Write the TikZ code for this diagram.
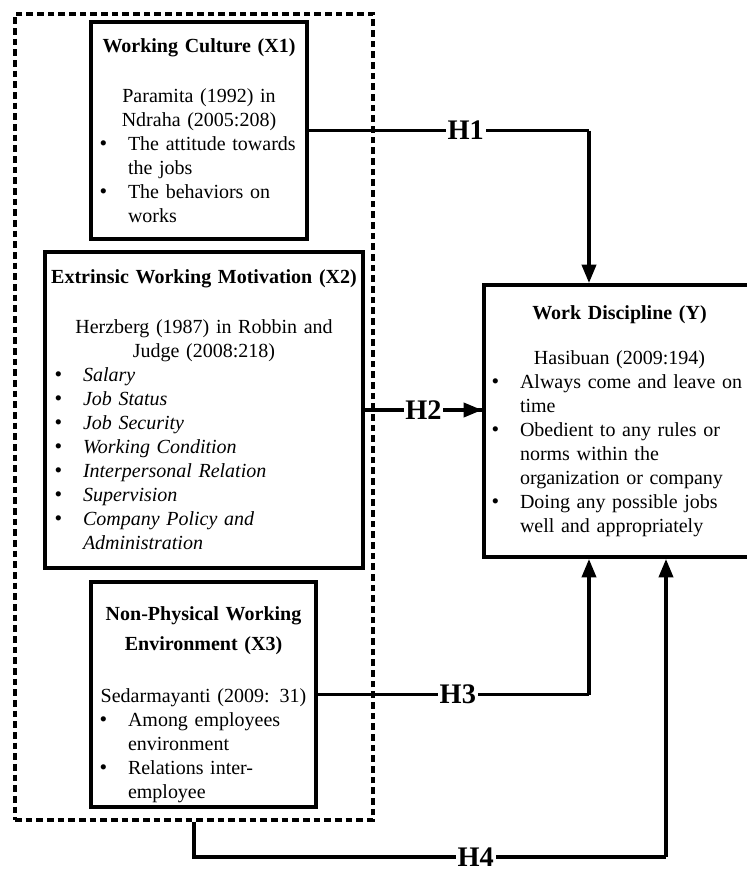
\documentclass[tikz,border=0pt]{standalone}
\usepackage{fontspec}
\setmainfont{Liberation Serif}
\usetikzlibrary{arrows.meta}

\newlength{\bulind}
\setlength{\bulind}{18pt}
\newcommand{\ctr}[1]{\makebox[\linewidth]{#1}}
\newcommand{\dotmark}{{\fontsize{13}{13}\selectfont\textbullet}}
\newcommand{\bul}[1]{\mbox{\makebox[\bulind][l]{\hspace*{1pt}\dotmark}#1}}
\newcommand{\cnt}[1]{\mbox{\hspace*{\bulind}#1}}

\tikzstyle{factor}=[rectangle,draw=black,line width=2.4pt,inner sep=0pt,align=left,font=\fontsize{12}{14.4}\selectfont]
\tikzstyle{group}=[rectangle,draw=black,line width=2pt,dash pattern=on 4pt off 2.4pt,inner sep=0pt]
\tikzstyle{hyp}=[fill=white,inner sep=1pt,font=\fontsize{17}{20}\selectfont\bfseries]
\tikzstyle{link}=[line width=2pt]
\tikzstyle{linkarrow}=[line width=2pt,-{Triangle[length=11pt,width=8.5pt]}]

\begin{document}
\begin{tikzpicture}[x=0.6pt,y=-0.6pt]

\useasboundingbox (0,0) rectangle (747,870);

\node [group,minimum width=214.8pt,minimum height=483.6pt] (grp) at (194,417) {};

\node [factor,text width=121.2pt,minimum width=129.6pt,minimum height=130.2pt] (x1) at (199,130.5) {%
\ctr{\textbf{Working Culture (X1)}}\\[15.6pt]
\ctr{Paramita (1992) in}\\
\ctr{Ndraha (2005:208)}\\
\bul{The attitude towards}\\
\cnt{the jobs}\\
\bul{The behaviors on}\\
\cnt{works}};

\node [factor,text width=181.2pt,minimum width=190.8pt,minimum height=189.6pt] (x2) at (204,410) {%
\ctr{\textbf{Extrinsic Working Motivation (X2)}}\\[15.6pt]
\ctr{Herzberg (1987) in Robbin and}\\
\ctr{Judge (2008:218)}\\
\bul{\textit{Salary}}\\
\bul{\textit{Job Status}}\\
\bul{\textit{Job Security}}\\
\bul{\textit{Working Condition}}\\
\bul{\textit{Interpersonal Relation}}\\
\bul{\textit{Supervision}}\\
\bul{\textit{Company Policy and}}\\
\cnt{\textit{Administration}}};

\node [factor,text width=126.6pt,minimum width=135pt,minimum height=135pt] (x3) at (203.5,694.5) {%
\vspace*{6pt}
\ctr{\textbf{Non-Physical Working}}\\[3.6pt]
\ctr{\textbf{Environment (X3)}}\\[16.8pt]
\ctr{Sedarmayanti (2009: 31)}\\
\bul{Among employees}\\
\cnt{environment}\\
\bul{Relations inter-}\\
\cnt{employee}};

\node [factor,text width=155.4pt,minimum width=162.6pt,minimum height=163.2pt] (y) at (619.5,421) {%
\ctr{\textbf{Work Discipline (Y)}}\\[12.6pt]
\ctr{Hasibuan (2009:194)}\\
\bul{Always come and leave on}\\
\cnt{time}\\
\bul{Obedient to any rules or}\\
\cnt{norms within the}\\
\cnt{organization or company}\\
\bul{Doing any possible jobs}\\
\cnt{well and appropriately}};

% entry points on the Y box
\coordinate (ya) at (589,0);
\coordinate (yb) at (666,857);

\draw[link] (x1.east) -- node[hyp,pos=0.56] (h1) {H1} (x1.east -| ya);
\draw[linkarrow] (x1.east -| ya) -- (ya |- y.north);

\draw[link] (x2.east) -- node[hyp,pos=0.5] (h2) {H2} (x2.east -| y.west);
\draw[linkarrow] (h2.east) -- (x2.east -| y.west);

\draw[link] (x3.east) -- node[hyp,pos=0.516] (h3) {H3} (x3.east -| ya);
\draw[linkarrow] (x3.east -| ya) -- (ya |- y.south);

\draw[link] (grp.south) -- (grp.south |- yb) -- node[hyp,pos=0.597] (h4) {H4} (yb);
\draw[linkarrow] (yb) -- (yb |- y.south);

\end{tikzpicture}
\end{document}
